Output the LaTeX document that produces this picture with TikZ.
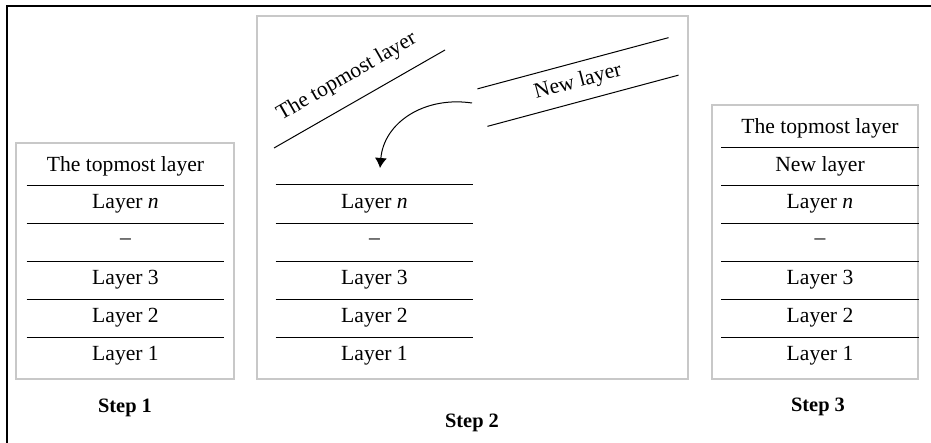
\documentclass[tikz,border=0pt]{standalone}
\usepackage{fontspec}
\setmainfont{Liberation Serif}
\usepackage{tikz}
\usetikzlibrary{arrows.meta, positioning}
\definecolor{panelgray}{RGB}{200,200,200}

\begin{document}
\begin{tikzpicture}[x=0.5pt, y=-0.5pt,
    layer/.style={minimum width=98.5pt, minimum height=19pt, inner sep=0pt, font=\fontsize{10.8}{12}\selectfont},
    tilted/.style={inner sep=0pt, font=\fontsize{10.8}{12}\selectfont},
    steplabel/.style={font=\fontsize{10.2}{12}\selectfont\bfseries},
    sepline/.style={line width=0.5pt},
    panel/.style={draw=panelgray, line width=0.6pt}]
  \useasboundingbox (0,0) rectangle (931,443);
  \draw[line width=1pt] (7,443) -- (7,6) -- (931,6);
  \draw[panel] (16,143) rectangle (234,379);
  \draw[panel] (257,16) rectangle (688,379);
  \draw[panel] (712,105) rectangle (918,379);
  % Step 1
  \foreach \t [count=\i] in {The topmost layer, Layer \textit{n}, \textendash, Layer 3, Layer 2, Layer 1}
    \node[layer] (a\i) at (125.5,{128+38*\i}) {\t};
  \foreach \i in {1,...,5}
    \draw[sepline] (a\i.south west) -- (a\i.south east);
  \node[steplabel] (step1) at (125,408) {Step 1};
  % Step 2
  \foreach \t [count=\i] in {Layer \textit{n}, \textendash, Layer 3, Layer 2, Layer 1}
    \node[layer] (b\i) at (374.5,{166+38*\i}) {\t};
  \draw[sepline] (b1.north west) -- (b1.north east);
  \foreach \i in {1,...,4}
    \draw[sepline] (b\i.south west) -- (b\i.south east);
  \draw[sepline] (274,148) -- node[tilted, sloped, above=7.5pt, pos=0.5] (top2) {The topmost layer} (445,50);
  \node[layer, rotate=15] (new2) at (578,82) {New layer};
  \draw[sepline] (new2.north west) -- (new2.north east);
  \draw[sepline] (new2.south west) -- (new2.south east);
  \coordinate (arrfrom) at (472,103);
  \coordinate (arrto) at (380,168);
  \draw[sepline, -{Latex[length=5pt, width=6pt]}] (arrfrom) .. controls (425,96) and (384,122) .. (arrto);
  \node[steplabel] (step2) at (472,423) {Step 2};
  % Step 3
  \foreach \t [count=\i] in {The topmost layer, New layer, Layer \textit{n}, \textendash, Layer 3, Layer 2, Layer 1}
    \node[layer] (c\i) at (820,{90+38*\i}) {\t};
  \foreach \i in {1,...,6}
    \draw[sepline] (c\i.south west) -- (c\i.south east);
  \node[steplabel] (step3) at (818,407) {Step 3};
\end{tikzpicture}
\end{document}
